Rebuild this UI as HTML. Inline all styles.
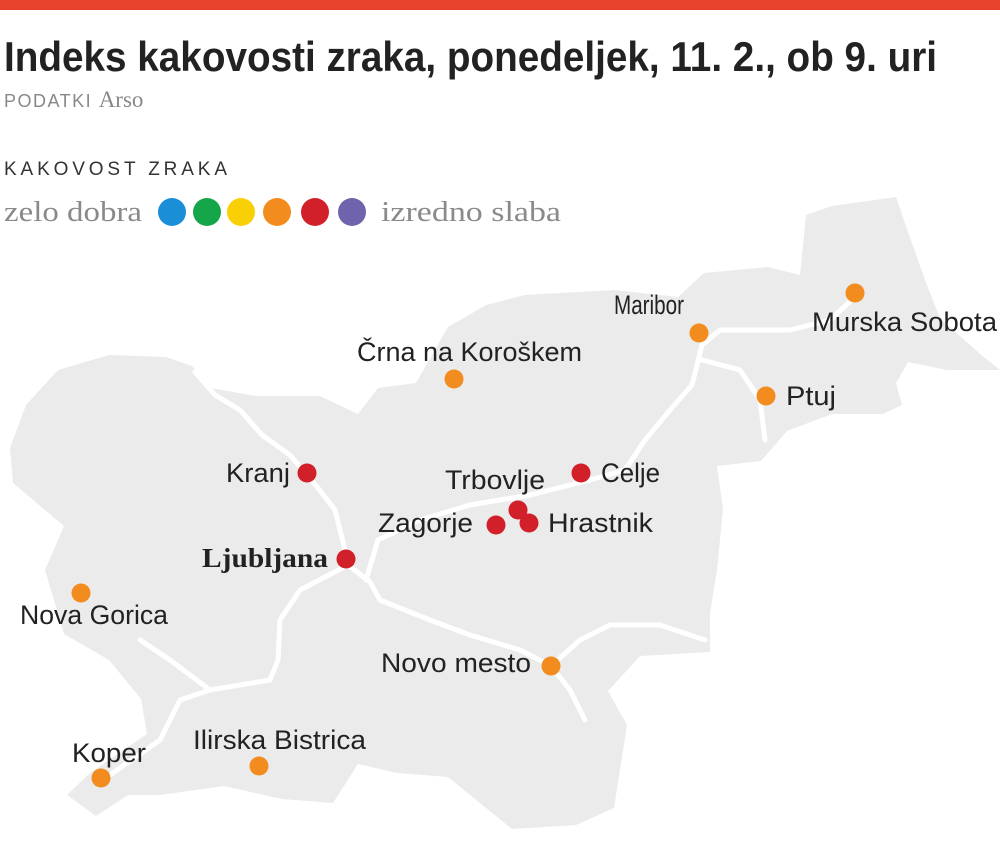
<!DOCTYPE html>
<html><head><meta charset="utf-8"><style>
body{margin:0;background:#fff;width:1000px;height:857px;overflow:hidden}
svg{display:block}
</style></head><body>
<svg width="1000" height="857" viewBox="0 0 1000 857" xmlns="http://www.w3.org/2000/svg">
<rect x="0" y="0" width="1000" height="10" fill="#e8432c"/>
<text x="4" y="71" font-family="Liberation Sans, sans-serif" font-weight="bold" font-size="42" fill="#222" textLength="933" lengthAdjust="spacingAndGlyphs">Indeks kakovosti zraka, ponedeljek, 11. 2., ob 9. uri</text>
<text x="4" y="107" font-family="Liberation Sans, sans-serif" font-size="18" fill="#888" letter-spacing="1.5">PODATKI <tspan font-family="Liberation Serif, serif" font-size="23" letter-spacing="0">Arso</tspan></text>
<text x="4" y="175" font-family="Liberation Sans, sans-serif" font-size="19" fill="#333" textLength="223" lengthAdjust="spacing">KAKOVOST ZRAKA</text>
<text x="4" y="221" font-family="Liberation Serif, serif" font-size="29" fill="#8a8a8a" textLength="138" lengthAdjust="spacingAndGlyphs">zelo dobra</text>
<text x="381" y="221" font-family="Liberation Serif, serif" font-size="29" fill="#8a8a8a" textLength="180" lengthAdjust="spacingAndGlyphs">izredno slaba</text>
<g>
<circle cx="172" cy="212" r="14" fill="#1a8fd8"/>
<circle cx="207" cy="212" r="14" fill="#16a64a"/>
<circle cx="241" cy="212" r="14" fill="#f9cf06"/>
<circle cx="277" cy="212" r="14" fill="#f28c1f"/>
<circle cx="315" cy="212" r="14" fill="#d2202a"/>
<circle cx="352" cy="212" r="14" fill="#6f63ad"/>
</g>
<path fill="#ebebeb" d="M10,448 L26,405 L58,370 L109,355 L166,357 L192,366 L211,388 L256,396 L320,396 L358,414 L378,388 L416,383 L448,327 L486,305 L525,295 L614,290 L678,297 L704,273 L768,267 L800,275 L806,215 L832,206 L896,197 L908,232 L928,288 L940,318 L979,353 L1000,370 L947,370 L908,362 L896,383 L902,405 L883,414 L832,414 L787,431 L761,461 L717,466 L723,509 L717,570 L710,613 L710,652 L640,656 L608,691 L627,725 L614,808 L576,825 L512,829 L448,777 L397,773 L358,764 L333,803 L282,799 L224,786 L160,795 L128,795 L96,816 L67,795 L90,773 L147,734 L141,699 L109,660 L64,634 L45,570 L64,526 L13,483 Z"/>
<g fill="none" stroke="#fff" stroke-width="5" stroke-linecap="round" stroke-linejoin="round">
<path d="M195,372 L215,395 L240,410 L262,435 L290,455 L318,488 L335,510 L345,550 L348,565 L370,582 L380,600 L430,620 L470,635 L520,650 L551,666 L570,690 L585,720"/>
<path d="M348,565 L300,590 L280,620 L278,660 L270,680 L210,690 L180,700 L160,740 L110,775"/>
<path d="M210,690 L170,660 L140,640"/>
<path d="M366,580 L378,540 L420,520 L470,505 L530,495 L590,480 L625,470 L645,440 L670,410 L692,385 L702,345 L720,330 L790,330 L830,320 L856,296"/>
<path d="M702,360 L740,370 L760,400 L765,440"/>
<path d="M551,666 L580,640 L610,625 L660,625 L705,640"/>
</g>
<g font-family="Liberation Sans, sans-serif" font-size="27" fill="#222">
<text x="812" y="331" textLength="185" lengthAdjust="spacingAndGlyphs">Murska Sobota</text>
<text x="614" y="314" textLength="70" lengthAdjust="spacingAndGlyphs">Maribor</text>
<text x="357" y="361" textLength="225" lengthAdjust="spacingAndGlyphs">Črna na Koroškem</text>
<text x="786" y="405" textLength="50" lengthAdjust="spacingAndGlyphs">Ptuj</text>
<text x="226" y="482" textLength="64" lengthAdjust="spacingAndGlyphs">Kranj</text>
<text x="601" y="482" textLength="59" lengthAdjust="spacingAndGlyphs">Celje</text>
<text x="445" y="489" textLength="100" lengthAdjust="spacingAndGlyphs">Trbovlje</text>
<text x="378" y="532" textLength="95" lengthAdjust="spacingAndGlyphs">Zagorje</text>
<text x="548" y="532" textLength="105" lengthAdjust="spacingAndGlyphs">Hrastnik</text>
<text x="202" y="567" font-family="Liberation Serif, serif" font-weight="bold" textLength="126" lengthAdjust="spacingAndGlyphs">Ljubljana</text>
<text x="20" y="624" textLength="148" lengthAdjust="spacingAndGlyphs">Nova Gorica</text>
<text x="381" y="672" textLength="150" lengthAdjust="spacingAndGlyphs">Novo mesto</text>
<text x="193" y="749" textLength="173" lengthAdjust="spacingAndGlyphs">Ilirska Bistrica</text>
<text x="72" y="762" textLength="74" lengthAdjust="spacingAndGlyphs">Koper</text>
</g>
<g fill="#f28c1f">
<circle cx="855" cy="293" r="9.5"/><circle cx="699" cy="333" r="9.5"/><circle cx="766" cy="396" r="9.5"/>
<circle cx="454" cy="379" r="9.5"/><circle cx="81" cy="593" r="9.5"/><circle cx="551" cy="666" r="9.5"/>
<circle cx="259" cy="766" r="9.5"/><circle cx="101" cy="778" r="9.5"/>
</g>
<g fill="#d2202a">
<circle cx="581" cy="473" r="9.5"/><circle cx="307" cy="473" r="9.5"/><circle cx="518" cy="510" r="9.5"/>
<circle cx="529" cy="523" r="9.5"/><circle cx="496" cy="525" r="9.5"/><circle cx="346" cy="559" r="9.5"/>
</g>
</svg>
</body></html>
